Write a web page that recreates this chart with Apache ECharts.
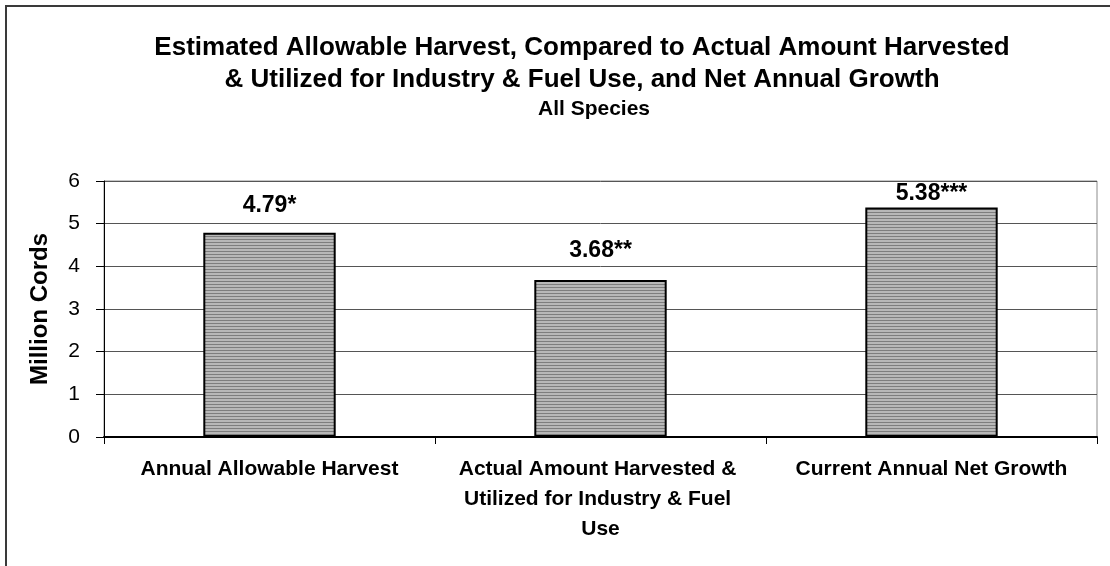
<!DOCTYPE html>
<html>
<head>
<meta charset="utf-8">
<script src="https://cdn.jsdelivr.net/npm/echarts@6/dist/echarts.min.js"></script>
<style>
  html, body { margin: 0; padding: 0; background: #fff; }
  #chart { width: 1110px; height: 566px; }
</style>
</head>
<body>
<div id="chart"></div>
<script>
// Harvest vs. growth, all species (million cords)
const categories = [
  'Annual Allowable Harvest',
  'Actual Amount Harvested & Utilized for Industry & Fuel Use',
  'Current Annual Net Growth'
];
const values = [4.79, 3.68, 5.38];
const footnoteMarks = ['*', '**', '***'];
const labelGaps = [15, 18, 2];
const yTicks = [0, 1, 2, 3, 4, 5, 6];

const FONT = 'Liberation Sans, Arial, sans-serif';

// Horizontal pinstripe fill for the bars
function stripePattern() {
  const c = document.createElement('canvas');
  c.width = 4; c.height = 3;
  const g = c.getContext('2d');
  g.fillStyle = '#b8b8b8'; g.fillRect(0, 0, 4, 2);
  g.fillStyle = '#7e7e7e'; g.fillRect(0, 2, 4, 1);
  return c;
}
const stripes = { image: stripePattern(), repeat: 'repeat' };

const chart = echarts.init(document.getElementById('chart'), null, { renderer: 'canvas' });

chart.setOption({
  animation: false,
  backgroundColor: '#fff',
  title: [
    {
      text: 'Estimated Allowable Harvest, Compared to Actual Amount Harvested\n& Utilized for Industry & Fuel Use, and Net Annual Growth',
      left: 577, top: 27, textAlign: 'center',
      textStyle: { fontFamily: FONT, fontWeight: 'bold', fontSize: 26, lineHeight: 32, color: '#000' }
    },
    {
      text: 'All Species',
      left: 589, top: 93, textAlign: 'center',
      textStyle: { fontFamily: FONT, fontWeight: 'bold', fontSize: 21, lineHeight: 22, color: '#000' }
    }
  ],
  graphic: [
    {
      type: 'rect', silent: true, z: 100,
      shape: { x: 6, y: 6, width: 1120, height: 600 },
      style: { fill: null, stroke: '#3a3a3a', lineWidth: 2 }
    }
  ],
  grid: {
    left: 104, right: 13, top: 181, bottom: 129,
    show: true, borderColor: '#8c8c8c', borderWidth: 1, backgroundColor: 'transparent'
  },
  xAxis: {
    type: 'category',
    data: categories,
    axisLine: { lineStyle: { color: '#000', width: 2 } },
    axisTick: { show: true, length: 7, interval: 0, lineStyle: { color: '#000', width: 1 } },
    axisLabel: {
      interval: 0, margin: 17, width: 305, overflow: 'break',
      fontFamily: FONT, fontWeight: 'bold', fontSize: 21, lineHeight: 30, color: '#000'
    }
  },
  yAxis: {
    type: 'value',
    min: 0, max: 6, interval: 1,
    name: 'Million Cords',
    nameLocation: 'middle',
    nameGap: 52,
    nameTextStyle: { fontFamily: FONT, fontWeight: 'bold', fontSize: 24, color: '#000' },
    axisLine: { show: true, lineStyle: { color: '#000', width: 1 } },
    axisTick: { show: true, length: 8, lineStyle: { color: '#000' } },
    axisLabel: {
      margin: 24, fontFamily: FONT, fontSize: 21, color: '#000',
      formatter: v => (yTicks.includes(v) ? String(v) : '')
    },
    splitLine: { show: true, lineStyle: { color: '#555', width: 1 } }
  },
  series: [
    {
      type: 'bar',
      barWidth: '40%',
      data: values.map((v, i) => ({
        value: v,
        label: { distance: labelGaps[i] }
      })),
      itemStyle: { color: stripes, borderColor: '#000', borderWidth: 2 },
      label: {
        show: true, position: 'top',
        fontFamily: FONT, fontWeight: 'bold', fontSize: 23, color: '#000',
        formatter: p => values[p.dataIndex].toFixed(2) + footnoteMarks[p.dataIndex]
      }
    }
  ]
});
</script>
</body>
</html>
